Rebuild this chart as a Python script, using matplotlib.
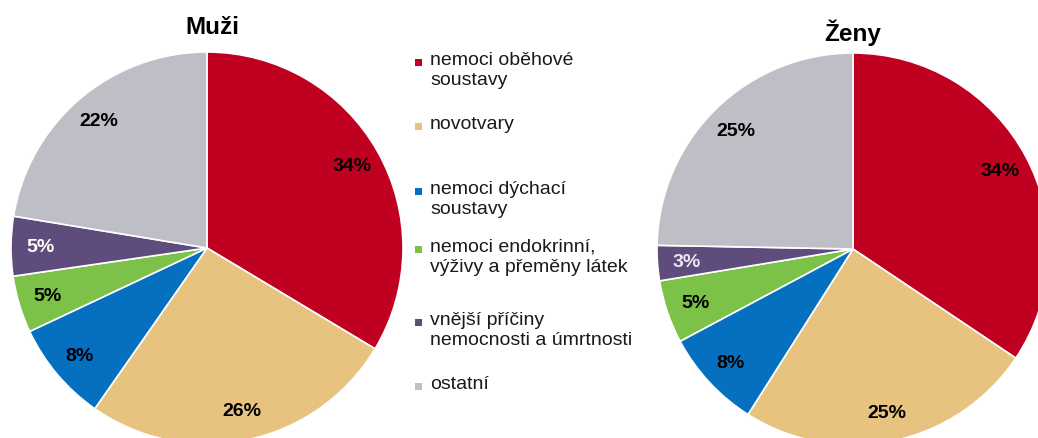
import matplotlib.pyplot as plt
from matplotlib.patches import Rectangle

plt.rcParams['font.family'] = ['Liberation Sans', 'DejaVu Sans']

categories = ["nemoci oběhové\nsoustavy", "novotvary", "nemoci dýchací\nsoustavy",
              "nemoci endokrinní,\nvýživy a přeměny látek",
              "vnější příčiny\nnemocnosti a úmrtnosti", "ostatní"]
# shares (labels show them rounded)
muzi = [33.6, 26.1, 8.3, 4.7, 4.9, 22.4]
zeny = [34.4, 24.6, 8.2, 5.2, 2.9, 24.7]
colors = ["#C00020", "#E8C37F", "#0570C0", "#7CC148", "#5E4C7C", "#BEBFC6"]

W, H = 1038, 439
fig = plt.figure(figsize=(W / 100, H / 100), dpi=100)


def pie_axes(cx, cy, r):
    # pixel centre/radius -> figure fraction box
    return fig.add_axes([(cx - r) / W, (H - cy - r) / H, 2 * r / W, 2 * r / H])


def draw_pie(ax, values, title, title_x, title_y, pct_colors):
    wedges, texts, autotexts = ax.pie(
        values, colors=colors, startangle=90, counterclock=False,
        autopct=lambda p: "%d%%" % int(p + 0.5), pctdistance=0.85,
        wedgeprops=dict(edgecolor="white", linewidth=1.2), radius=1)
    for t, c in zip(autotexts, pct_colors):
        t.set_color(c)
        t.set_fontsize(14)
        t.set_fontweight("bold")
    ax.set_xlim(-1, 1)
    ax.set_ylim(-1, 1)
    fig.text(title_x / W, 1 - title_y / H, title,
             ha="center", va="center", fontsize=17.5, fontweight="bold")
    return wedges


ax1 = pie_axes(207, 249, 196)
draw_pie(ax1, muzi, "Muži", 212, 28, ["black", "black", "black", "black", "white", "black"])

ax2 = pie_axes(853, 250, 196)
draw_pie(ax2, zeny, "Ženy", 853, 33, ["black", "black", "black", "black", "#E8E8F0", "black"])

# legend placed by hand (first-line y in pixels)
legend_y = [63, 127, 192, 250, 323, 387]
for lab, col, y in zip(categories, colors, legend_y):
    fig.add_artist(Rectangle((415 / W, 1 - (y + 4) / H), 7 / W, 7 / H,
                             transform=fig.transFigure, facecolor=col, edgecolor="none"))
    fig.text(430 / W, 1 - (y - 11) / H, lab, ha="left", va="top",
             fontsize=14, linespacing=1.25, color="#1a1a1a")

fig.savefig("out.png", dpi=100)
